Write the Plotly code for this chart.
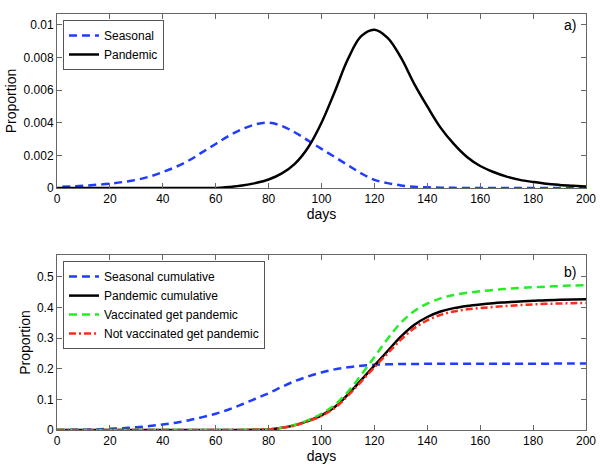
import plotly.graph_objects as go
from plotly.subplots import make_subplots

# ---- data ----
days_seasonal = [2, 5, 10, 15, 20, 25, 30, 35, 40, 45, 50, 55, 60, 65, 70, 75, 80, 85, 90, 95,
                 100, 105, 110, 115, 120, 125, 130, 135, 140, 145, 150, 160, 170, 180, 190, 200]
seasonal = [0.00008, 0.0001, 0.00014, 0.0002, 0.00027, 0.00037, 0.0005, 0.0007, 0.00098, 0.0013,
            0.0017, 0.0022, 0.0027, 0.0032, 0.0036, 0.0039, 0.0040, 0.0038, 0.0034, 0.0029,
            0.0024, 0.0019, 0.0014, 0.0009, 0.0005, 0.0003, 0.00016, 0.00008, 0.00004, 0.00002,
            0.00001, 0.0, 0.0, 0.0, 0.0, 0.0]

days_pandemic = [0, 20, 40, 60, 62, 65, 70, 75, 80, 85, 90, 95, 100, 105, 110, 115, 120, 125, 130,
                 135, 140, 145, 150, 155, 160, 165, 170, 175, 180, 185, 190, 195, 200]
pandemic = [0.0, 0.0, 0.0, 0.0, 0.00002, 0.00006, 0.00015, 0.0003, 0.00052, 0.0009, 0.0015, 0.0025,
            0.0040, 0.0059, 0.0079, 0.0093, 0.0097, 0.0092, 0.0080, 0.0064, 0.0050, 0.0037, 0.0027,
            0.0019, 0.00135, 0.00098, 0.0007, 0.0005, 0.00037, 0.00026, 0.00019, 0.00014, 0.0001]

days_cum = list(range(0, 201, 5))
seasonal_cum = [0.0, 0.0005, 0.001, 0.002, 0.004, 0.006, 0.009, 0.013, 0.018, 0.024, 0.032, 0.042,
                0.053, 0.067, 0.084, 0.102, 0.12, 0.141, 0.16, 0.175, 0.188, 0.198, 0.205, 0.21,
                0.213, 0.2145, 0.2153, 0.2158, 0.216, 0.216, 0.216, 0.216, 0.216, 0.2162, 0.2164,
                0.2165, 0.2166, 0.2167, 0.2168, 0.2169, 0.217]
pandemic_cum = [0.0, 0.0, 0.0, 0.0, 0.0, 0.0, 0.0, 0.0, 0.0, 0.0, 0.0, 0.0, 0.0, 0.0, 0.0, 0.0005,
                0.002, 0.007, 0.016, 0.03, 0.048, 0.075, 0.116, 0.163, 0.21, 0.258, 0.305, 0.343,
                0.369, 0.387, 0.398, 0.405, 0.41, 0.414, 0.417, 0.42, 0.422, 0.424, 0.425, 0.426,
                0.427]
vacc_cum = [0.0, 0.0, 0.0, 0.0, 0.0, 0.0, 0.0, 0.0, 0.0, 0.0, 0.0, 0.0, 0.0, 0.0, 0.0, 0.0005,
            0.002, 0.007, 0.017, 0.032, 0.053, 0.082, 0.125, 0.18, 0.238, 0.298, 0.35, 0.388,
            0.413, 0.43, 0.441, 0.448, 0.453, 0.457, 0.461, 0.464, 0.466, 0.468, 0.47, 0.472,
            0.473]
notvacc_cum = [0.0, 0.0, 0.0, 0.0, 0.0, 0.0, 0.0, 0.0, 0.0, 0.0, 0.0, 0.0, 0.0, 0.0, 0.0, 0.0005,
               0.002, 0.007, 0.015, 0.029, 0.046, 0.072, 0.112, 0.158, 0.205, 0.25, 0.295, 0.332,
               0.358, 0.376, 0.387, 0.394, 0.398, 0.402, 0.405, 0.408, 0.41, 0.412, 0.413, 0.414,
               0.415]

x_ticks = [0, 20, 40, 60, 80, 100, 120, 140, 160, 180, 200]
top_yticks = [0, 0.002, 0.004, 0.006, 0.008, 0.01]
top_yticklabels = ["0", "0.002", "0.004", "0.006", "0.008", "0.01"]
bot_yticks = [0, 0.1, 0.2, 0.3, 0.4, 0.5]
bot_yticklabels = ["0", "0.1", "0.2", "0.3", "0.4", "0.5"]

BLUE = "#1f3cff"
GREEN = "#22ee22"
RED = "#ff2a1a"
LW = 2.5
DASH = "8px,5px"
DASHDOT = "7px,3px,2px,3px"
FONT = "Liberation Sans, Arial, sans-serif"

fig = make_subplots(rows=2, cols=1, vertical_spacing=0.0)

fig.add_trace(go.Scatter(x=days_seasonal, y=seasonal, name="Seasonal", mode="lines",
                         line=dict(color=BLUE, width=LW, dash=DASH, shape="spline"),
                         legend="legend"), row=1, col=1)
fig.add_trace(go.Scatter(x=days_pandemic, y=pandemic, name="Pandemic", mode="lines",
                         line=dict(color="black", width=LW, shape="spline"),
                         legend="legend"), row=1, col=1)

fig.add_trace(go.Scatter(x=days_cum, y=seasonal_cum, name="Seasonal cumulative", mode="lines",
                         line=dict(color=BLUE, width=LW, dash=DASH, shape="spline"),
                         legend="legend2"), row=2, col=1)
fig.add_trace(go.Scatter(x=days_cum, y=pandemic_cum, name="Pandemic cumulative", mode="lines",
                         line=dict(color="black", width=LW, shape="spline"),
                         legend="legend2"), row=2, col=1)
fig.add_trace(go.Scatter(x=days_cum, y=vacc_cum, name="Vaccinated get pandemic", mode="lines",
                         line=dict(color=GREEN, width=LW, dash=DASH, shape="spline"),
                         legend="legend2"), row=2, col=1)
fig.add_trace(go.Scatter(x=days_cum, y=notvacc_cum, name="Not vaccinated get pandemic", mode="lines",
                         line=dict(color=RED, width=LW, dash=DASHDOT, shape="spline"),
                         legend="legend2"), row=2, col=1)

axis_common = dict(showline=True, linecolor="#666666", linewidth=1, mirror="ticks",
                   ticks="inside", ticklen=5, tickcolor="#666666", showgrid=False,
                   zeroline=False, automargin=False,
                   tickfont=dict(size=12, color="black", family=FONT))

top_dom = [0.5817, 1.0]
bot_dom = [0.0, 0.4207]

fig.update_xaxes(range=[0, 200], tickvals=x_ticks, **axis_common)
fig.update_xaxes(title=dict(text="days", font=dict(size=14, color="black", family=FONT), standoff=2))
fig.update_yaxes(title=dict(text="Proportion", font=dict(size=14, color="black", family=FONT), standoff=3),
                 **axis_common)

fig.update_yaxes(range=[0, 0.01066], tickvals=top_yticks, ticktext=top_yticklabels,
                 domain=top_dom, row=1, col=1)
fig.update_yaxes(range=[0, 0.5715], tickvals=bot_yticks, ticktext=bot_yticklabels,
                 domain=bot_dom, row=2, col=1)

legend_common = dict(bgcolor="white", bordercolor="#555555", borderwidth=1,
                     font=dict(size=12, color="black", family=FONT),
                     xanchor="left", yanchor="top", tracegroupgap=0)

fig.update_layout(
    width=600, height=466,
    margin=dict(l=57, r=14, t=14, b=36),
    paper_bgcolor="white", plot_bgcolor="white",
    font=dict(family=FONT, size=12, color="black"),
    legend=dict(x=0.0113, y=0.9856, **legend_common),
    legend2=dict(x=0.0113, y=0.406, **legend_common),
    annotations=[
        dict(text="a)", xref="x domain", yref="y domain", x=0.97, y=0.935, showarrow=False,
             xanchor="center", yanchor="middle", font=dict(size=14, color="black", family=FONT)),
        dict(text="b)", xref="x2 domain", yref="y2 domain", x=0.97, y=0.9, showarrow=False,
             xanchor="center", yanchor="middle", font=dict(size=14, color="black", family=FONT)),
    ],
)

fig.write_html("out.html", config={"displayModeBar": False},
               post_script="document.body.style.margin='0px';")
